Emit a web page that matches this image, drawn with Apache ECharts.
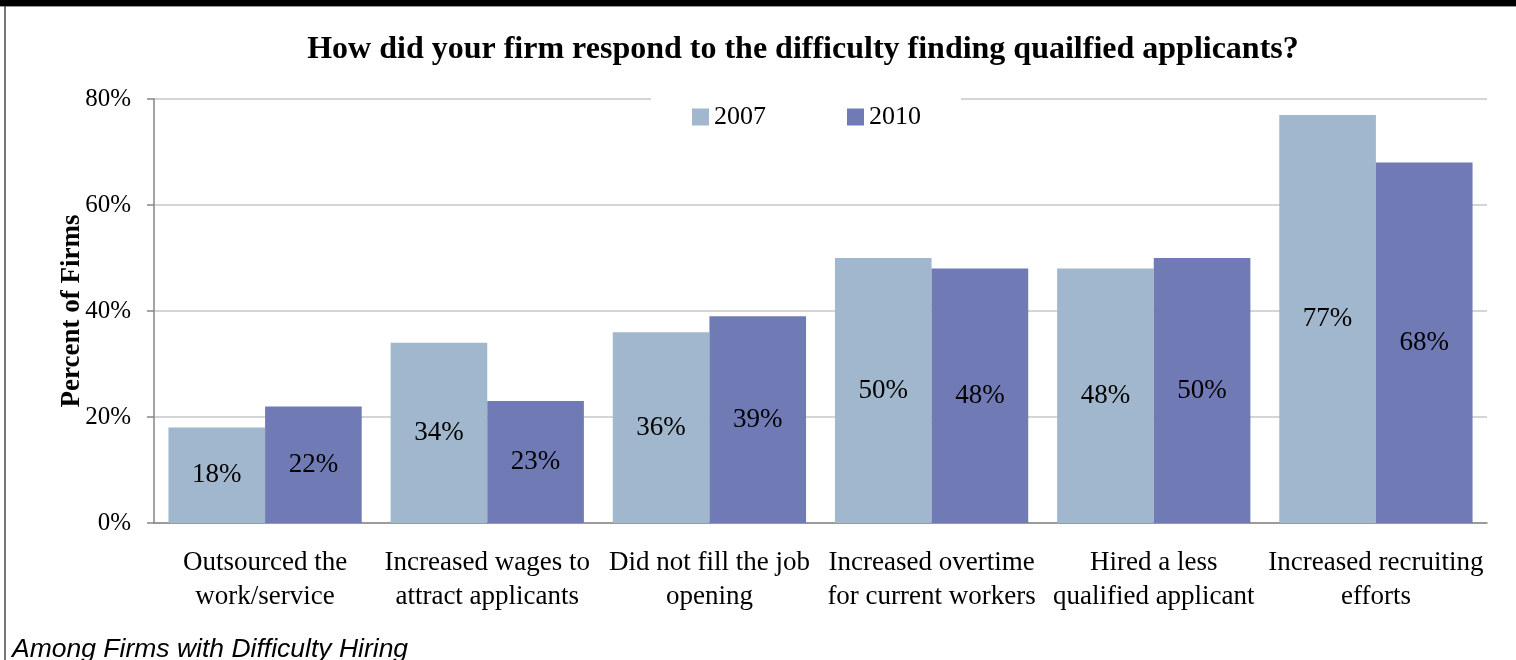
<!DOCTYPE html>
<html>
<head>
<meta charset="utf-8">
<script src="https://cdn.jsdelivr.net/npm/echarts@6/dist/echarts.min.js"></script>
<style>
  html, body { margin: 0; padding: 0; background: #fff; }
  #chart { width: 1516px; height: 660px; }
</style>
</head>
<body>
<div id="chart"></div>
<script>
// Survey responses: how firms reacted to difficulty finding qualified applicants
const categories = [
  'Outsourced the\nwork/service',
  'Increased wages to\nattract applicants',
  'Did not fill the job\nopening',
  'Increased overtime\nfor current workers',
  'Hired a less\nqualified applicant',
  'Increased recruiting\nefforts'
];
const seriesNames = ['2007', '2010'];
const values2007 = [18, 34, 36, 50, 48, 77];
const values2010 = [22, 23, 39, 48, 50, 68];
const yTicks = [0, 20, 40, 60, 80];

const serif = '"Liberation Serif", "Times New Roman", serif';
const colors = ['#a1b7cd', '#707bb6'];

const chart = echarts.init(document.getElementById('chart'), null, { renderer: 'canvas' });

function barSeries(name, data, color) {
  return {
    name: name,
    type: 'bar',
    data: data,
    barGap: '0%',
    barCategoryGap: '13%',
    itemStyle: { color: color },
    label: {
      show: true,
      position: 'inside',
      formatter: p => p.value + '%',
      fontFamily: serif,
      fontSize: 27,
      color: '#000'
    }
  };
}

chart.setOption({
  animation: false,
  backgroundColor: '#fff',
  title: {
    text: 'How did your firm respond to the difficulty finding quailfied applicants?',
    left: 798,
    textAlign: 'center',
    top: 29,
    textStyle: { fontFamily: serif, fontWeight: 'bold', fontSize: 32, color: '#000' }
  },
  legend: {
    data: seriesNames,
    left: 651,
    top: 96,
    padding: [8, 40, 8, 41],
    itemGap: 81,
    itemWidth: 17,
    itemHeight: 17,
    backgroundColor: '#fff',
    icon: 'rect',
    textStyle: { fontFamily: serif, fontSize: 26, color: '#000' }
  },
  grid: { left: 154, right: 29, top: 99, bottom: 137, containLabel: false },
  xAxis: {
    type: 'category',
    data: categories,
    axisLine: { lineStyle: { color: '#868686', width: 1.5 } },
    axisTick: { show: false },
    axisLabel: {
      interval: 0,
      margin: 23,
      fontFamily: serif,
      fontSize: 27,
      lineHeight: 34,
      color: '#000'
    }
  },
  yAxis: {
    type: 'value',
    min: yTicks[0],
    max: yTicks[yTicks.length - 1],
    interval: 20,
    name: 'Percent of Firms',
    nameLocation: 'middle',
    nameGap: 68,
    nameMoveOverlap: false,
    nameTextStyle: { fontFamily: serif, fontWeight: 'bold', fontSize: 27, color: '#000' },
    axisLine: { show: true, lineStyle: { color: '#868686', width: 1.5 } },
    axisTick: { show: true, length: 7, lineStyle: { color: '#868686', width: 1.5 } },
    splitLine: { lineStyle: { color: '#c4c8c8', width: 1.5 } },
    axisLabel: {
      margin: 23,
      formatter: v => v + '%',
      fontFamily: serif,
      fontSize: 25,
      color: '#000'
    }
  },
  series: [
    barSeries(seriesNames[0], values2007, colors[0]),
    barSeries(seriesNames[1], values2010, colors[1])
  ],
  graphic: [
    { type: 'rect', shape: { x: 0, y: 0, width: 1516, height: 6 }, style: { fill: '#000' }, z: 100 },
    { type: 'line', shape: { x1: 0, y1: 6.5, x2: 1516, y2: 6.5 }, style: { stroke: '#9a9a9a', lineWidth: 1 }, z: 100 },
    { type: 'line', shape: { x1: 5, y1: 6, x2: 5, y2: 660 }, style: { stroke: '#4a4a4a', lineWidth: 1.5 }, z: 100 },
    {
      type: 'text',
      left: 12,
      top: 636,
      style: {
        text: 'Among Firms with Difficulty Hiring',
        font: 'italic 26.5px "Liberation Sans", Arial, sans-serif',
        fill: '#000'
      },
      z: 100
    }
  ]
});
</script>
</body>
</html>
